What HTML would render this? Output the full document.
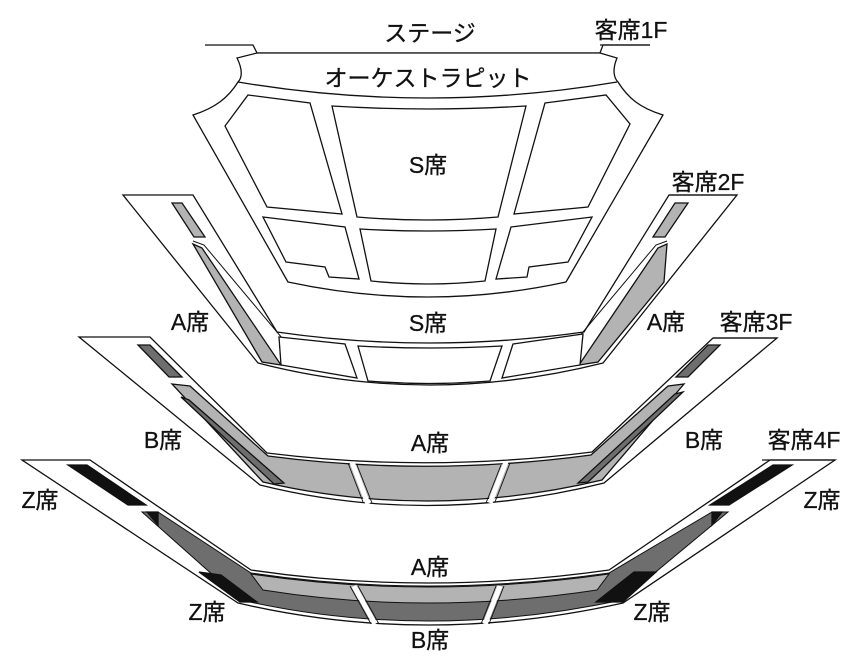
<!DOCTYPE html>
<html><head><meta charset="utf-8"><style>
html,body{margin:0;padding:0;background:#fff;}
svg{display:block;}
text{font-family:"Liberation Sans","Noto Sans CJK JP",sans-serif;font-size:23px;fill:#111;text-anchor:middle;stroke:#111;stroke-width:0.3;}
</style></head><body>
<svg width="857" height="670" viewBox="0 0 857 670" xmlns="http://www.w3.org/2000/svg">
<g fill="#fff" stroke="#111" stroke-width="1.3" stroke-linejoin="miter">
<!-- 1F -->
<path d="M205,45 L253,45 L257,53 L600,53 L603,45 L650,45" fill="none"/>
<path d="M257,53 L600,53 L617,58 C612,70 614,78 618,82 C628,98 640,108 663,115 L566,282 Q428,312 288,282 L193,115 C215,108 228,98 238,82 C242,78 243,70 237,58 Z"/>
<path d="M238,82 Q428,114 617,82" fill="none"/>
<path d="M248,95 L310,103 L342,214 L267,207 L225,126 Z"/>
<path d="M332,106 Q429,112 526,106 L498,217 Q428,223 357,217 Z"/>
<path d="M545,103 L606,95 L630,124 L588,207 L514,214 Z"/>
<path d="M263,217 L345,227 L359,279 L329,277 L325,267 L286,262 Z"/>
<path d="M360,229 Q428,233 496,229 L485,281 Q428,287 371,281 Z"/>
<path d="M511,227 L592,217 L568,262 L529,267 L527,277 L496,279 Z"/>
<!-- 2F -->
<path d="M123,195 L193,195 L277,332 Q428,354 584,332 L669,195 L737,195 L603,363 Q428,407 258,363 Z"/>
<path d="M669,195 L737,195" fill="none"/>
<path d="M172,203 L182,203 L205,237 L194,237 Z" fill="#b3b3b3"/>
<path d="M675,203 L688,203 L665,237 L653,237 Z" fill="#b3b3b3"/>
<path d="M193,241 L204,245 L282,338" fill="none" stroke-width="1"/>
<path d="M193,244 L202,248 L281,365 L262,362 Z" fill="#b3b3b3"/>
<path d="M667,241 L656,245 L578,338" fill="none" stroke-width="1"/>
<path d="M667,244 L664,282 L598,362 L579,365 L658,248 Z" fill="#b3b3b3"/>
<path d="M279,337 L345,344 L357,378 L281,365 Z"/>
<path d="M358,346 Q430,350 502,346 L490,381 Q429,386 368,381 Z"/>
<path d="M513,344 L583,334 L580,365 L502,378 Z"/>
<!-- 3F -->
<path d="M79,337 L150,337 L267,453 Q428,473 592,452 L713,338 L777,338 L604,483 Q428,527 260,485 Z"/>
<path d="M713,338 L777,338" fill="none"/>
<path d="M138,345 L150,345 L182,377 L169,377 Z" fill="#6e6e6e"/>
<path d="M708,345 L720,345 L688,377 L676,377 Z" fill="#6e6e6e"/>
<path d="M172,384 L190,386 L268,456 Q428,477 591,455 L668,386 L684,384 L602,480 Q430,521 263,482 Z" fill="#b3b3b3"/>
<path d="M181,397 L189,400 L284,483 L274,484 Z" fill="#6e6e6e"/>
<path d="M675,394 L683,392 L588,482 L578,483 Z" fill="#6e6e6e"/>
<path d="M352,462 L368,504 M506,462 L490,503" stroke="#fff" stroke-width="5" fill="none"/>
<path d="M348,463 L363,502 M357,465 L372,503 M510,463 L495,502 M501,465 L486,503" stroke-width="0.9" fill="none"/>
<!-- 4F -->
<path d="M22,460 L90,460 L251,570 Q426,596 609,570 L770,460 L835,460 L623,603 Q426,647 238,603 Z"/>
<path d="M762,460 L835,460" fill="none"/>
<path d="M68,465 L87,465 L146,505 L128,505 Z" fill="#111"/>
<path d="M773,465 L792,465 L729,505 L710,505 Z" fill="#111"/>
<path d="M142,512 L158,512 L251,573 Q426,599 609,573 L712,512 L728,512 L622,600 Q426,642 241,600 Z" fill="#6e6e6e" stroke-width="1"/>
<path d="M147,512 L158,512 L158,525 Z M712,512 L722,512 L712,525 Z" fill="#111"/>
<path d="M251,574 Q426,600 609,574 L597,590 Q426,616 263,590 Z" fill="#b3b3b3" stroke-width="1"/>
<path d="M199,572 L221,575 L257,602 L240,602 Z" fill="#111"/>
<path d="M634,572 L656,572 L623,602 L596,602 Z" fill="#111"/>
<path d="M354,586 L375,624 M500,586 L485,624" stroke="#fff" stroke-width="5" fill="none"/>
<path d="M350,586 L371,624 M358,586 L379,624 M504,586 L489,624 M496,586 L481,624" stroke-width="0.9" fill="none"/>
</g>
<g>
<text x="430" y="41">ステージ</text>
<text x="631" y="38">客席1F</text>
<line x1="600" y1="45" x2="650" y2="45" stroke="#111" stroke-width="1.3"/>
<text x="428" y="86">オーケストラピット</text>
<text x="428" y="173">S席</text>
<text x="708" y="190">客席2F</text>
<text x="190" y="330">A席</text>
<text x="428" y="331">S席</text>
<text x="666" y="330">A席</text>
<text x="756" y="330">客席3F</text>
<text x="163" y="448">B席</text>
<text x="430" y="451">A席</text>
<text x="704" y="448">B席</text>
<text x="804" y="448">客席4F</text>
<text x="40" y="508">Z席</text>
<text x="822" y="508">Z席</text>
<text x="430" y="575">A席</text>
<text x="207" y="620">Z席</text>
<text x="652" y="620">Z席</text>
<text x="430" y="648">B席</text>
</g>
</svg>
</body></html>
